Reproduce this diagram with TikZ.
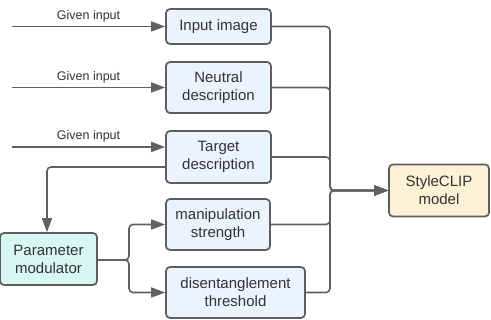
\documentclass[tikz,border=0pt]{standalone}
\usepackage{fontspec}
\setmainfont{Liberation Sans}
\usetikzlibrary{arrows.meta}
\definecolor{bordc}{HTML}{5E5E5E}
\definecolor{linec}{HTML}{606060}
\definecolor{txtc}{HTML}{333333}
\definecolor{bluef}{HTML}{EAF3FE}
\definecolor{tealf}{HTML}{D7F7F0}
\definecolor{creamf}{HTML}{FDF1D6}
\tikzset{
  box/.style={draw=bordc, line width=1.7pt, rounded corners=4pt, fill=bluef,
    text=txtc, align=center, inner sep=0pt,
    font=\fontsize{15}{18}\selectfont},
  conn/.style={draw=linec, line width=1.6pt, rounded corners=4pt,
    -{Triangle[length=14pt,width=10pt]}},
  lbl/.style={text=txtc, font=\fontsize{12.5}{14}\selectfont, inner sep=0pt}
}
\begin{document}
\begin{tikzpicture}[x=1pt,y=-1pt]
\useasboundingbox (0,0) rectangle (491,320);
\node[box, minimum width=105pt, minimum height=35pt] (img) at (218.5,26.5) {Input image};
\node[box, minimum width=105pt, minimum height=51pt] (neu) at (218.5,87.5) {Neutral\\description};
\node[box, minimum width=105pt, minimum height=52pt] (tgt) at (218.5,157) {Target\\description};
\node[box, minimum width=104pt, minimum height=51pt] (man) at (218,224.5) {manipulation\\strength};
\node[box, minimum width=139pt, minimum height=51pt] (dis) at (235.5,292.5) {disentanglement\\threshold};
\node[box, fill=tealf, minimum width=97pt, minimum height=52pt] (mod) at (48.5,259) {Parameter\\modulator};
\node[box, fill=creamf, minimum width=100pt, minimum height=52pt] (sty) at (439,190.5) {StyleCLIP\\model};

\coordinate (g1) at (12,26.5);
\coordinate (g2) at (12,87.5);
\coordinate (g3) at (12,147);
\coordinate (bus) at (330,190.5);
\coordinate (fork) at (129,260);

\draw[conn] (g1) -- node[lbl, midway, above=4pt] {Given input} (img.west);
\draw[conn] (g2) -- node[lbl, midway, above=4pt] {Given input} (neu.west);
\draw[conn] (g3) -- node[lbl, midway, above=4pt] {Given input} (tgt.west |- g3);

\draw[conn] (img.east) -| (bus) -- (sty.west);
\draw[conn] (neu.east) -| (bus) -- (sty.west);
\draw[conn] (tgt.east) -| (bus) -- (sty.west);
\draw[conn] (man.east) -| (bus) -- (sty.west);
\draw[conn] (dis.east) -| (bus) -- (sty.west);

\draw[conn] ([yshift=-10pt]tgt.west) -| ([xshift=-1.5pt]mod.north);

\draw[conn] (mod.east |- fork) -- (fork) |- (man.west);
\draw[conn] (mod.east |- fork) -- (fork) |- (dis.west);
\end{tikzpicture}
\end{document}
